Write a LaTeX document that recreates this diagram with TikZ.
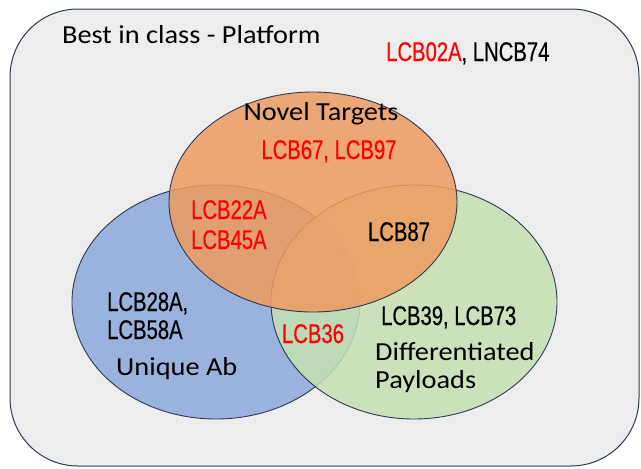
\documentclass[tikz,border=0pt]{standalone}
\usepackage{fontspec}
\setmainfont{Carlito}
\newfontfamily\titlefont[FakeStretch=1.09]{Carlito}
\newfontfamily\narrowfont[FakeStretch=0.75,FakeBold=0.4]{Liberation Sans}
\begin{document}
\begin{tikzpicture}[x=1pt,y=-1pt,
  setshape/.style={draw=panelline, line width=0.9pt, fill opacity=0.85},
  title/.style={font=\titlefont\fontsize{26}{28}\selectfont, inner sep=0pt},
  code/.style={font=\narrowfont\fontsize{27}{30}\selectfont, inner sep=0pt},
]
\definecolor{panelfill}{RGB}{237,237,237}
\definecolor{panelline}{RGB}{45,58,82}
\definecolor{setblue}{RGB}{140,168,220}
\definecolor{setgreen}{RGB}{197,224,178}
\definecolor{setorange}{RGB}{238,155,95}
\definecolor{labelred}{RGB}{255,0,0}
\useasboundingbox (0,0) rectangle (641,469);

% platform panel
\draw[panelline, line width=1pt, fill=panelfill, rounded corners=68pt] (10,9) rectangle (639,466);

% the three sets
\draw[setshape, fill=setblue] (216,302) ellipse [x radius=144, y radius=117];
\draw[setshape, fill=setgreen] (414,302) ellipse [x radius=143, y radius=117];
\draw[setshape, fill=setorange] (313,202) ellipse [x radius=144, y radius=110];

% labels
\node[title, anchor=base west] (platform) at (62,43) {Best in class - Platform};
\node[code, anchor=base west] (top) at (386,61) {\textcolor{labelred}{LCB02A}, LNCB74};
\node[title, anchor=base] (novel) at (321,120) {Novel Targets};
\node[code, anchor=base, text=labelred] (nt) at (329,159) {LCB67, LCB97};
\node[code, anchor=base west, text=labelred] (nua) at (191,219) {LCB22A};
\node[code, anchor=base west, text=labelred] (nub) at (191,249) {LCB45A};
\node[code, anchor=base] (ntp) at (399,241) {LCB87};
\node[code, anchor=base west] (uaa) at (107,311) {LCB28A,};
\node[code, anchor=base west] (uab) at (107,339) {LCB58A};
\node[title, anchor=base west] (unique) at (116,375) {Unique Ab};
\node[code, anchor=base, text=labelred] (up) at (313,343) {LCB36};
\node[code, anchor=base west] (dp) at (381,325) {LCB39, LCB73};
\node[title, anchor=base west] (diffa) at (375,360) {Differentiated};
\node[title, anchor=base west] (diffb) at (375,388) {Payloads};
\end{tikzpicture}
\end{document}
